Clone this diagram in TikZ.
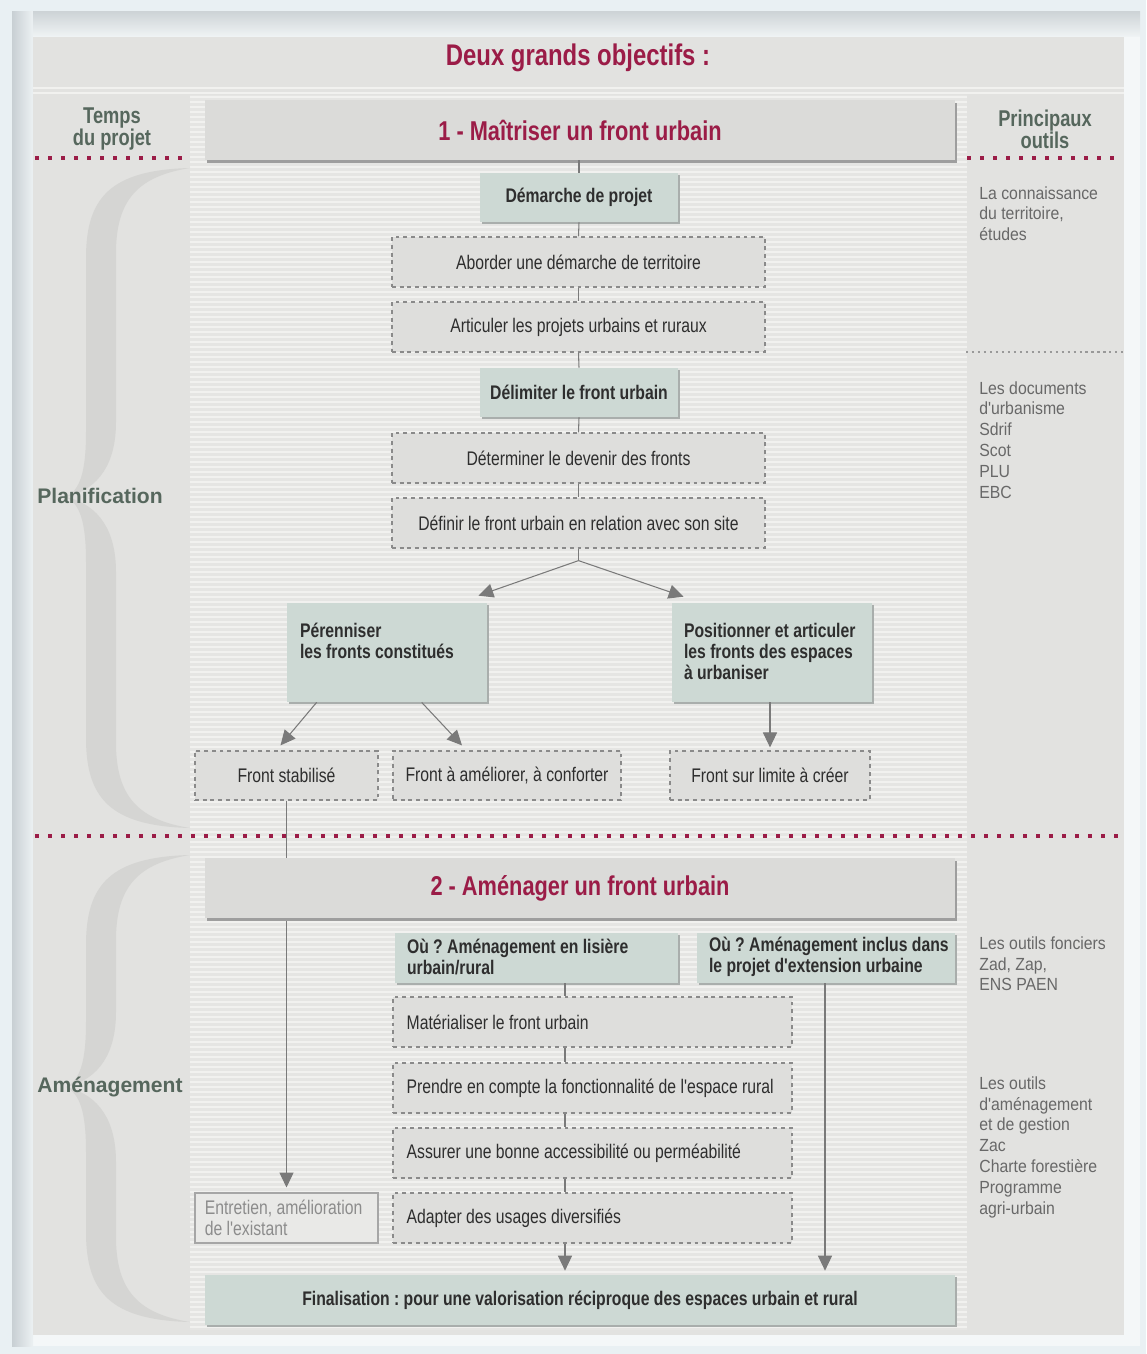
\documentclass[tikz,border=0pt]{standalone}
\usepackage{fontspec}
\setmainfont{Liberation Sans}
\newfontfamily\cnd{Liberation Sans}[FakeStretch=0.8]
\newfontfamily\cndr{Liberation Sans}[FakeStretch=0.9]
\usetikzlibrary{arrows.meta,shadows,calc}
\definecolor{dred}{HTML}{9B1C47}
\definecolor{outerbg}{HTML}{E9F0F3}
\definecolor{framebg}{HTML}{F4F7F8}
\definecolor{panel}{HTML}{E2E2E0}
\definecolor{stripebase}{HTML}{E5E5E3}
\definecolor{stripeline}{HTML}{F1F1EF}
\definecolor{greenbox}{HTML}{CDD9D4}
\definecolor{greybox}{HTML}{DEDEDC}
\definecolor{entbox}{HTML}{E9E9E7}
\definecolor{headbox}{HTML}{DBDBD9}
\definecolor{dashcol}{HTML}{8A8A8A}
\definecolor{txt}{HTML}{2E2E2E}
\definecolor{shd}{HTML}{A9AEAC}
\definecolor{lncol}{HTML}{7A7A7A}
\definecolor{sidetxt}{HTML}{56675D}
\definecolor{tooltxt}{HTML}{686868}
\definecolor{brc}{HTML}{D5D5D3}
\definecolor{shadeA}{HTML}{C8CFD3}
\definecolor{shadeB}{HTML}{ECF1F3}
\definecolor{shadeC}{HTML}{CED4D7}
\definecolor{shadeD}{HTML}{F0F4F5}
\newcommand\drawbrace[3]{%
\fill[brc] (190,#1) .. controls (110,#1+2) and (86,#1+30) .. (86,#1+90) -- (86,#2-65) .. controls (86,#2-25) and (80,#2-7) .. (66,#2) .. controls (80,#2+7) and (86,#2+25) .. (86,#2+65) -- (86,#3-90) .. controls (86,#3-30) and (110,#3-2) .. (190,#3) .. controls (140,#3-8) and (116,#3-30) .. (116,#3-85) -- (116,#2+75) .. controls (116,#2+35) and (100,#2+8) .. (66,#2) .. controls (100,#2-8) and (116,#2-35) .. (116,#2-75) -- (116,#1+85) .. controls (116,#1+30) and (140,#1+8) .. cycle;}
\begin{document}
\frenchspacing
\begin{tikzpicture}[x=0.02cm,y=-0.02cm,
  gbox/.style={fill=greenbox, draw=none, text=txt, font=\cnd\bfseries\fontsize{11.2}{11.9}\selectfont,
     drop shadow={shadow xshift=1.4pt, shadow yshift=-1.4pt, fill=shd, opacity=1}},
  dbox/.style={fill=greybox, draw=dashcol, line width=0.7pt, dash pattern=on 2.2pt off 2.2pt, text=txt,
     font=\cnd\fontsize{11.2}{11.9}\selectfont},
  hbox/.style={fill=headbox, draw=none, text=dred, font=\cnd\bfseries\fontsize{15.5}{17}\selectfont,
     drop shadow={shadow xshift=1.2pt, shadow yshift=-1.6pt, fill=black!38, opacity=1}},
  sz/.style 2 args={minimum width=#1*0.02cm, minimum height=#2*0.02cm, inner sep=0pt},
  ltxt/.style={anchor=west, align=left, inner sep=0pt, text=txt, font=\cnd\fontsize{11.2}{11.9}\selectfont},
  lbtxt/.style={ltxt, font=\cnd\bfseries\fontsize{11.2}{11.9}\selectfont},
  ln/.style={draw=lncol, line width=0.6pt},
  arr/.style={ln, -{Triangle[length=8.5pt,width=8pt]}},
  reddots/.style={draw=dred, line width=2.2pt, dash pattern=on 2.2pt off 5.2pt},
  greydots/.style={draw=black!40, line width=1.2pt, dash pattern=on 1.2pt off 2.2pt},
  tool/.style={anchor=north west, align=left, text=tooltxt, inner sep=0pt, font=\cndr\fontsize{10}{11.9}\selectfont},
  side/.style={text=sidetxt, font=\bfseries\fontsize{12}{14}\selectfont},
  colhead/.style={align=center, text=sidetxt, font=\cnd\bfseries\fontsize{13}{12.5}\selectfont}
]
\useasboundingbox (0,0) rectangle (1146,1354);
% backgrounds
\fill[outerbg] (0,0) rectangle (1146,1354);
\fill[framebg] (12,12) rectangle (1140,1346);
\shade[left color=shadeA, right color=shadeB] (12,12) rectangle (33,1346);
\shade[top color=shadeC, bottom color=shadeD] (33,12) rectangle (1140,37);
\fill[panel] (33,37) rectangle (1124,1335);
\fill[stripebase] (190,95) rectangle (967,1330);
\foreach \yy in {97,102,...,1328} \draw[stripeline, line width=1pt] (190,\yy) -- (967,\yy);
\foreach \yy in {88,93} \draw[stripeline, line width=1.2pt] (33,\yy) -- (1124,\yy);
% braces
\drawbrace{168}{497}{828}
\drawbrace{855}{1087}{1322}
% titles
\node[text=dred, font=\cnd\bfseries\fontsize{17}{18}\selectfont] (title) at (578,58) {Deux grands objectifs :};
\node[colhead] (temps) at (112,129) {Temps\\du projet};
\node[colhead] (outils) at (1045,129) {Principaux\\outils};
\node[side, anchor=west, inner sep=0pt] (plan) at (37,496) {Planification};
\node[side, anchor=west, inner sep=0pt] (amen) at (37,1087) {Aménagement};
% dotted separators
\draw[reddots] (35,158) -- (186,158);
\draw[reddots] (967,158) -- (1122,158);
\draw[reddots] (35,836) -- (1122,836);
\draw[greydots] (966,352) -- (1124,352);
% tools column
\node[tool] (t1) at (979,186) {La connaissance\\du territoire,\\études};
\node[tool] (t2) at (979,381) {Les documents\\d'urbanisme\\Sdrif\\Scot\\PLU\\EBC};
\node[tool] (t3) at (979,936) {Les outils fonciers\\Zad, Zap,\\ENS PAEN};
\node[tool] (t4) at (979,1076) {Les outils\\d'aménagement\\et de gestion\\Zac\\Charte forestière\\Programme\\agri-urbain};
% part 1
\node[hbox, sz={750}{60}] (h1) at (580,130) {1 - Maîtriser un front urbain};
\node[gbox, sz={198}{49}] (dem) at (579,197.5) {Démarche de projet};
\node[dbox, sz={373}{50}] (abo) at (578.5,262) {Aborder une démarche de territoire};
\node[dbox, sz={373}{50}] (art) at (578.5,327) {Articuler les projets urbains et ruraux};
\node[gbox, sz={198}{49}] (del) at (579,392.5) {Délimiter le front urbain};
\node[dbox, sz={373}{50}] (det) at (578.5,458) {Déterminer le devenir des fronts};
\node[dbox, sz={373}{50}] (def) at (578.5,523) {Définir le front urbain en relation avec son site};
\draw[ln] (h1.south -| dem.north) -- (dem.north);
\draw[ln] (dem.south) -- (abo.north);
\draw[ln] (abo.south) -- (art.north);
\draw[ln] (art.south) -- (del.north);
\draw[ln] (del.south) -- (det.north);
\draw[ln] (det.south) -- (def.north);
\node[gbox, sz={200}{99}] (per) at (387,652.5) {};
\node[gbox, sz={200}{99}] (pos) at (772,652.5) {};
\node[lbtxt, anchor=north west] (pertxt) at ($(per.north west)+(13,19)$) {\rule{0pt}{9pt}Pérenniser\\les fronts constitués};
\node[lbtxt, anchor=north west] (postxt) at ($(pos.north west)+(12,19)$) {\rule{0pt}{9pt}Positionner et articuler\\les fronts des espaces\\à urbaniser};
\coordinate (sp) at ($(def.south)+(0,12)$);
\draw[ln] (def.south) -- (sp);
\draw[arr] (sp) -- ($(per.north east)+(-9,-7)$);
\draw[arr] (sp) -- ($(pos.north west)+(12,-6)$);
\node[dbox, sz={183}{49}] (stab) at (286.5,775.5) {Front stabilisé};
\node[dbox, sz={228}{49}] (ame) at (507,775.5) {Front à améliorer, à conforter};
\node[dbox, sz={200}{49}] (lim) at (770,775.5) {Front sur limite à créer};
\draw[arr] ($(per.south west)+(30,0)$) -- ($(stab.north)+(-6,-5)$);
\draw[arr] ($(per.south west)+(135,0)$) -- ($(ame.north)+(-45,-5)$);
\draw[arr] (pos.south -| lim.north) -- ($(lim.north)+(0,-3)$);
% part 2
\node[draw=black!35, line width=0.6pt, fill=entbox, sz={183}{50}] (ent) at (286.5,1218) {};
\node[ltxt, text=black!45] (entt) at ($(ent.west)+(10,0)$) {Entretien, amélioration\\de l'existant};
\draw[arr] (stab.south) -- ($(ent.north)+(0,-5)$);
\node[hbox, sz={750}{60}] (h2) at (580,888) {2 - Aménager un front urbain};
\node[gbox, sz={283}{50}] (ou1) at (536.5,958) {};
\node[lbtxt] (ou1t) at ($(ou1.west)+(12,-1)$) {Où ? Aménagement en lisière\\urbain/rural};
\node[gbox, sz={258}{50}] (ou2) at (826,958) {};
\node[lbtxt] (ou2t) at ($(ou2.west)+(12,-1)$) {Où ? Aménagement inclus dans\\le projet d'extension urbaine};
\node[dbox, sz={399}{50}] (mat) at (592.5,1022) {};
\node[ltxt] (matt) at ($(mat.west)+(14,0)$) {Matérialiser le front urbain};
\node[dbox, sz={399}{50}] (pre) at (592.5,1088) {};
\node[ltxt] (pret) at ($(pre.west)+(14,0)$) {Prendre en compte la fonctionnalité de l'espace rural};
\node[dbox, sz={399}{50}] (ass) at (592.5,1153) {};
\node[ltxt] (asst) at ($(ass.west)+(14,0)$) {Assurer une bonne accessibilité ou perméabilité};
\node[dbox, sz={399}{50}] (ada) at (592.5,1218) {};
\node[ltxt] (adat) at ($(ada.west)+(14,0)$) {Adapter des usages diversifiés};
\node[gbox, sz={750}{50}] (fin) at (580,1300) {Finalisation : pour une valorisation réciproque des espaces urbain et rural};
\coordinate (cx) at (565,0);
\coordinate (cy) at (825,0);
\draw[ln] (ou1.south -| cx) -- (mat.north -| cx);
\draw[ln] (mat.south -| cx) -- (pre.north -| cx);
\draw[ln] (pre.south -| cx) -- (ass.north -| cx);
\draw[ln] (ass.south -| cx) -- (ada.north -| cx);
\draw[arr] (ada.south -| cx) -- ($(fin.north -| cx)+(0,-4)$);
\draw[arr] (ou2.south -| cy) -- ($(fin.north -| cy)+(0,-4)$);
\end{tikzpicture}
\end{document}
